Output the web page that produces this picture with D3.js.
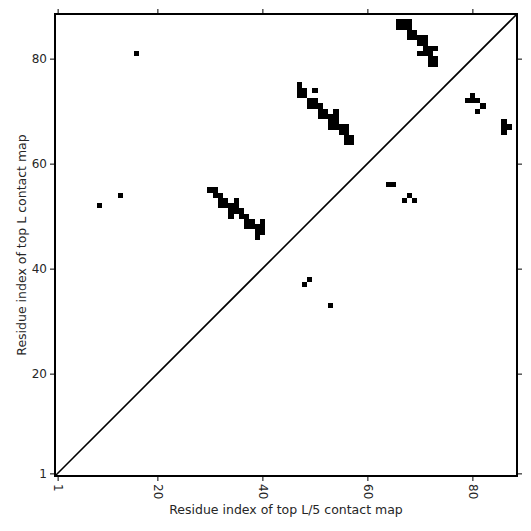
<!DOCTYPE html>
<html>
<head>
<meta charset="utf-8">
<script src="https://cdn.jsdelivr.net/npm/d3@7"></script>
<style>
  body { margin: 0; background: #fff; }
  text { font-family: "DejaVu Sans", sans-serif; fill: #262626; }
</style>
</head>
<body>
<div class="chart"></div>
<script>
// sequence length and tick labels
var seqLength = 88;
var tickValues = [1, 20, 40, 60, 80];

// contacts above the diagonal [x, y]
var upperContacts = [
  [9, 52], [13, 54], [16, 81],
  // strand pair around 30-40 / 46-55
  [30, 55], [31, 55], [31, 54], [32, 54],
  [32, 53], [33, 53], [35, 53],
  [32, 52], [33, 52], [34, 52], [35, 52],
  [34, 51], [35, 51], [36, 51],
  [34, 50], [36, 50], [37, 50],
  [37, 49], [38, 49], [40, 49],
  [37, 48], [38, 48], [39, 48], [40, 48],
  [39, 47], [40, 47], [39, 46],
  // strand pair around 47-57 / 64-75
  [47, 75], [47, 74], [48, 74], [50, 74],
  [47, 73], [48, 73],
  [49, 72], [50, 72],
  [49, 71], [50, 71], [51, 71],
  [51, 70], [52, 70], [54, 70],
  [51, 69], [52, 69], [53, 69], [54, 69],
  [53, 68], [54, 68],
  [53, 67], [54, 67], [55, 67], [56, 67],
  [55, 66], [56, 66],
  [56, 65], [57, 65], [56, 64], [57, 64],
  // strand pair around 66-73 / 79-87
  [66, 87], [67, 87], [68, 87],
  [66, 86], [67, 86], [68, 86],
  [68, 85], [69, 85],
  [68, 84], [69, 84], [70, 84], [71, 84],
  [70, 83], [71, 83],
  [71, 82], [72, 82], [73, 82],
  [70, 81], [71, 81], [72, 81],
  [72, 80], [73, 80], [72, 79], [73, 79]
];

// contacts below the diagonal [x, y]
var lowerContacts = [
  [48, 37], [49, 38], [53, 33],
  [64, 56], [65, 56], [67, 53], [68, 54], [69, 53],
  [80, 73], [79, 72], [80, 72], [81, 72], [82, 71], [81, 70],
  [86, 68], [86, 67], [87, 67], [86, 66]
];

var svgWidth = 531;
var svgHeight = 531;
var margin = { top: 14, right: 14, bottom: 55, left: 55 };
var width = svgWidth - margin.left - margin.right;
var height = svgHeight - margin.top - margin.bottom;

var svg = d3.select(".chart")
  .append("svg")
  .attr("width", svgWidth)
  .attr("height", svgHeight);

var chartGroup = svg.append("g")
  .attr("transform", `translate(${margin.left}, ${margin.top})`);

var xScale = d3.scaleLinear()
  .domain([0.5, seqLength + 0.5])
  .range([0, width]);

var yScale = d3.scaleLinear()
  .domain([0.5, seqLength + 0.5])
  .range([height, 0]);

// cells
var allContacts = upperContacts.concat(lowerContacts);
chartGroup.selectAll("rect.cell")
  .data(allContacts)
  .enter()
  .append("rect")
  .attr("class", "cell")
  .attr("x", d => xScale(d[0] - 0.5))
  .attr("y", d => yScale(d[1] + 0.5))
  .attr("width", d => xScale(d[0] + 0.5) - xScale(d[0] - 0.5))
  .attr("height", d => yScale(d[1] - 0.5) - yScale(d[1] + 0.5))
  .attr("fill", "#000")
  .attr("shape-rendering", "crispEdges");

// diagonal
chartGroup.append("line")
  .attr("x1", xScale(0.5))
  .attr("y1", yScale(0.5))
  .attr("x2", xScale(seqLength + 0.5))
  .attr("y2", yScale(seqLength + 0.5))
  .attr("stroke", "#000")
  .attr("stroke-width", 1.6);

// axes
var bottomAxis = d3.axisBottom(xScale).tickValues(tickValues).tickSize(5).tickPadding(3);
var leftAxis = d3.axisLeft(yScale).tickValues(tickValues).tickSize(5).tickPadding(3);
var topAxis = d3.axisTop(xScale).tickValues(tickValues).tickSize(5).tickFormat("");
var rightAxis = d3.axisRight(yScale).tickValues(tickValues).tickSize(5).tickFormat("");

var xAxis = chartGroup.append("g")
  .attr("transform", `translate(0, ${height})`)
  .call(bottomAxis);
xAxis.selectAll("text")
  .attr("transform", "rotate(90)")
  .attr("text-anchor", "start")
  .attr("x", 8)
  .attr("y", 0)
  .attr("dy", "0.35em");

var yAxis = chartGroup.append("g").call(leftAxis);
chartGroup.append("g").call(topAxis);
chartGroup.append("g").attr("transform", `translate(${width}, 0)`).call(rightAxis);

chartGroup.selectAll(".domain").remove();
chartGroup.selectAll(".tick line").attr("stroke", "#000").attr("stroke-width", 1);
chartGroup.selectAll(".tick text")
  .style("font-size", "12px")
  .style("font-family", "DejaVu Sans, sans-serif")
  .attr("fill", "#262626");

// frame
chartGroup.append("rect")
  .attr("x", 0)
  .attr("y", 0)
  .attr("width", width)
  .attr("height", height)
  .attr("fill", "none")
  .attr("stroke", "#000")
  .attr("stroke-width", 2);

// axis labels
chartGroup.append("text")
  .attr("x", width / 2)
  .attr("y", height + 38)
  .attr("text-anchor", "middle")
  .style("font-size", "12.5px")
  .text("Residue index of top L/5 contact map");

chartGroup.append("text")
  .attr("transform", "rotate(-90)")
  .attr("x", -height / 2)
  .attr("y", -29)
  .attr("text-anchor", "middle")
  .style("font-size", "12.5px")
  .text("Residue index of top L contact map");
</script>
</body>
</html>
